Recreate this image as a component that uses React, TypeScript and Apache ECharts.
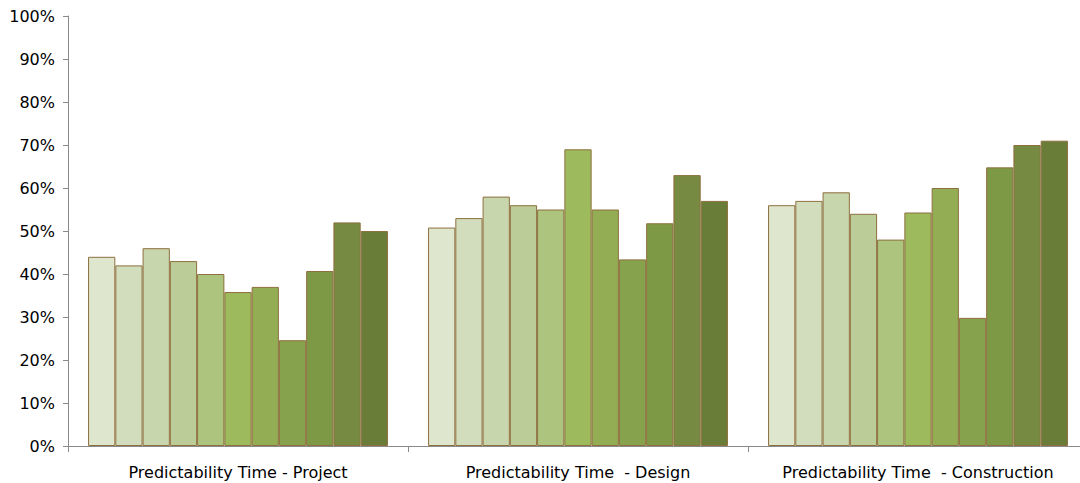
import React, { useEffect, useRef } from "react";
import * as echarts from "echarts";

const categories = [
  "Predictability Time - Project",
  "Predictability Time  - Design",
  "Predictability Time  - Construction",
];

// values per category, 11 series each (in %)
const projectValues = [44, 42, 46, 43, 40, 35.8, 37, 24.6, 40.7, 52, 50];
const designValues = [50.8, 53, 58, 56, 55, 69, 55, 43.4, 51.8, 63, 57];
const constructionValues = [56, 57, 59, 54, 48, 54.3, 60, 29.8, 64.8, 70, 71];

const seriesColors = [
  "#DEE6CE",
  "#D1DDBC",
  "#C7D6AC",
  "#BCCC98",
  "#ACC47E",
  "#9DBB5C",
  "#93AD55",
  "#87A24C",
  "#7E9945",
  "#768B41",
  "#6A7D38",
];

const yTicks = [0, 10, 20, 30, 40, 50, 60, 70, 80, 90, 100];

export default function App() {
  const ref = useRef<HTMLDivElement>(null);
  useEffect(() => {
    if (!ref.current) return;
    const chart = echarts.init(ref.current, undefined, { renderer: "svg" });
    const series = seriesColors.map((color, i) => ({
      type: "bar" as const,
      name: "S" + (i + 1),
      data: [projectValues[i], designValues[i], constructionValues[i]],
      barGap: "0%",
      barCategoryGap: "11.8%",
      itemStyle: {
        color,
        borderColor: "#8E6F3E",
        borderWidth: 1,
      },
    }));
    chart.setOption({
      animation: false,
      grid: { left: 68, top: 16, bottom: 37, right: 0, containLabel: false },
      xAxis: {
        type: "category",
        data: categories,
        axisLine: { lineStyle: { color: "#8a8a8a", width: 1 } },
        axisTick: { show: true, length: 6, lineStyle: { color: "#8a8a8a" } },
        axisLabel: {
          color: "#000",
          fontFamily: "DejaVu Sans",
          fontSize: 16,
          margin: 18,
          interval: 0,
        },
      },
      yAxis: {
        type: "value",
        min: yTicks[0],
        max: yTicks[yTicks.length - 1],
        interval: 10,
        splitLine: { show: false },
        axisLine: { show: true, lineStyle: { color: "#8a8a8a", width: 1 } },
        axisTick: { show: true, length: 5, lineStyle: { color: "#8a8a8a" } },
        axisLabel: {
          color: "#000",
          fontFamily: "DejaVu Sans",
          fontSize: 16,
          margin: 13,
          formatter: (v: number) => v + "%",
        },
      },
      series,
    });
    return () => chart.dispose();
  }, []);
  return (
    <div style={{ position: "absolute", left: 0, top: 0, width: 1080, height: 483, overflow: "hidden" }}>
      <div ref={ref} style={{ width: 1088, height: 483 }} />
    </div>
  );
}
